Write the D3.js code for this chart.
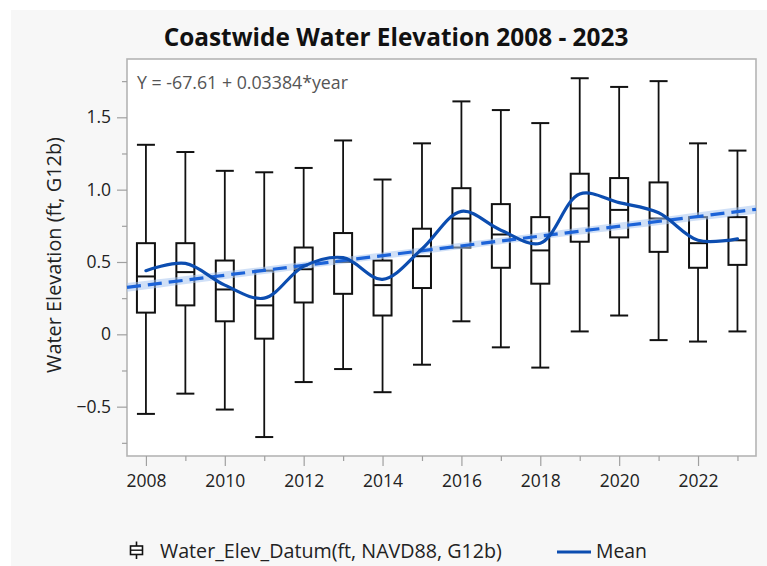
<!DOCTYPE html>
<html>
<head>
<meta charset="utf-8">
<script src="https://cdn.jsdelivr.net/npm/d3@7"></script>
<style>
  html, body { margin: 0; padding: 0; background: #ffffff; }
  svg { display: block; font-family: "Open Sans", "Noto Sans", sans-serif; }
</style>
</head>
<body>
<svg id="chart" width="767" height="566"></svg>
<script>
// Yearly distribution of water elevation (ft, NAVD88, G12b)
const years       = [2008, 2009, 2010, 2011, 2012, 2013, 2014, 2015, 2016, 2017, 2018, 2019, 2020, 2021, 2022, 2023];
const whiskerHigh = [1.31, 1.26, 1.13, 1.12, 1.15, 1.34, 1.07, 1.32, 1.61, 1.55, 1.46, 1.77, 1.71, 1.75, 1.32, 1.27];
const q3          = [0.63, 0.63, 0.51, 0.44, 0.60, 0.70, 0.51, 0.73, 1.01, 0.90, 0.81, 1.11, 1.08, 1.05, 0.81, 0.81];
const medians     = [0.40, 0.43, 0.31, 0.20, 0.45, 0.50, 0.34, 0.54, 0.80, 0.69, 0.58, 0.87, 0.86, 0.80, 0.63, 0.65];
const q1          = [0.15, 0.20, 0.09, -0.03, 0.22, 0.28, 0.13, 0.32, 0.60, 0.46, 0.35, 0.64, 0.67, 0.57, 0.46, 0.48];
const whiskerLow  = [-0.55, -0.41, -0.52, -0.71, -0.33, -0.24, -0.40, -0.21, 0.09, -0.09, -0.23, 0.02, 0.13, -0.04, -0.05, 0.02];
const means       = [0.44, 0.49, 0.34, 0.25, 0.47, 0.53, 0.38, 0.59, 0.85, 0.72, 0.63, 0.97, 0.91, 0.84, 0.65, 0.66];

// Linear fit: Y = -67.61 + 0.03384*year
const fitIntercept = -67.61;
const fitSlope = 0.03384;
// Half-width of the fit's confidence band at the centre year, and its growth toward the ends
const bandCentreHalf = 0.022;
const bandEndGrowth = 0.9;

const yTicks = [-0.5, 0, 0.5, 1.0, 1.5];
const yMinorTicks = [-0.75, -0.25, 0.25, 0.75, 1.25, 1.75];
const xTicks = [2008, 2010, 2012, 2014, 2016, 2018, 2020, 2022];
const xMinorTicks = [2009, 2011, 2013, 2015, 2017, 2019, 2021, 2023];

const titleText = "Coastwide Water Elevation 2008 - 2023";
const yLabelText = "Water Elevation (ft, G12b)";
const equationText = "Y = -67.61 + 0.03384*year";
const legendBoxText = "Water_Elev_Datum(ft, NAVD88, G12b)";
const legendMeanText = "Mean";

const svg = d3.select("#chart");
const plot = { left: 127, top: 59, right: 756, bottom: 456 };

// Panel background
svg.append("rect").attr("x", 11).attr("y", 10).attr("width", 756).attr("height", 556).attr("fill", "#f7f7f7");

const x = d3.scaleLinear().domain([2007.52, 2023.47]).range([plot.left, plot.right]);
const y = d3.scaleLinear().domain([-0.841, 1.903]).range([plot.bottom, plot.top]);

// Fit text to a target width by adjusting its font size
function fitWidth(sel, target) {
  const node = sel.node();
  const fs = parseFloat(sel.attr("font-size"));
  const w = node.getComputedTextLength();
  if (w > 0) sel.attr("font-size", (fs * target / w).toFixed(2));
  return sel;
}

// Plot area
svg.append("rect")
  .attr("x", plot.left).attr("y", plot.top)
  .attr("width", plot.right - plot.left).attr("height", plot.bottom - plot.top)
  .attr("fill", "#ffffff").attr("stroke", "#b4b4b4").attr("stroke-width", 1.6);

// Y axis
const yAxis = svg.append("g").attr("transform", `translate(${plot.left},0)`)
  .call(d3.axisLeft(y).tickValues(yTicks).tickSize(10).tickPadding(6)
    .tickFormat(d => d === 0 ? "0" : d3.format(".1f")(d)));
yAxis.select(".domain").remove();
yAxis.selectAll(".tick line").attr("stroke", "#a0a0a0").attr("stroke-width", 1.2);
yAxis.selectAll(".tick text").attr("font-size", 17.5).attr("fill", "#222").attr("font-family", "Open Sans, sans-serif");
const yMinor = svg.append("g").attr("transform", `translate(${plot.left},0)`)
  .call(d3.axisLeft(y).tickValues(yMinorTicks).tickSize(5).tickFormat(""));
yMinor.select(".domain").remove();
yMinor.selectAll(".tick line").attr("stroke", "#a0a0a0").attr("stroke-width", 1.2);

// X axis
const xAxis = svg.append("g").attr("transform", `translate(0,${plot.bottom})`)
  .call(d3.axisBottom(x).tickValues(xTicks).tickSize(10).tickPadding(9).tickFormat(d3.format("d")));
xAxis.select(".domain").remove();
xAxis.selectAll(".tick line").attr("stroke", "#a0a0a0").attr("stroke-width", 1.2);
xAxis.selectAll(".tick text").attr("font-size", 17.5).attr("fill", "#222").attr("font-family", "Open Sans, sans-serif");
const xMinor = svg.append("g").attr("transform", `translate(0,${plot.bottom})`)
  .call(d3.axisBottom(x).tickValues(xMinorTicks).tickSize(5).tickFormat(""));
xMinor.select(".domain").remove();
xMinor.selectAll(".tick line").attr("stroke", "#a0a0a0").attr("stroke-width", 1.2);

// Box plots
const boxW = 18;
const capW = 18;
const g = svg.append("g");
years.forEach((yr, i) => {
  const cx = x(yr);
  const bg = g.append("g").attr("stroke", "#111").attr("fill", "none");
  bg.append("line").attr("x1", cx).attr("x2", cx).attr("y1", y(whiskerHigh[i])).attr("y2", y(q3[i])).attr("stroke-width", 1.8);
  bg.append("line").attr("x1", cx).attr("x2", cx).attr("y1", y(q1[i])).attr("y2", y(whiskerLow[i])).attr("stroke-width", 1.8);
  bg.append("line").attr("x1", cx - capW / 2).attr("x2", cx + capW / 2).attr("y1", y(whiskerHigh[i])).attr("y2", y(whiskerHigh[i])).attr("stroke-width", 2);
  bg.append("line").attr("x1", cx - capW / 2).attr("x2", cx + capW / 2).attr("y1", y(whiskerLow[i])).attr("y2", y(whiskerLow[i])).attr("stroke-width", 2);
  bg.append("rect").attr("x", cx - boxW / 2).attr("y", y(q3[i])).attr("width", boxW)
    .attr("height", y(q1[i]) - y(q3[i])).attr("fill", "#fff").attr("stroke-width", 2);
  bg.append("line").attr("x1", cx - boxW / 2).attr("x2", cx + boxW / 2).attr("y1", y(medians[i])).attr("y2", y(medians[i])).attr("stroke-width", 2);
});

// Regression fit with confidence band
const xMean = d3.mean(years);
const halfSpan = (x.domain()[1] - x.domain()[0]) / 2;
const bandYears = d3.range(0, 41).map(k => x.domain()[0] + (x.domain()[1] - x.domain()[0]) * k / 40);
const fitAt = yr => fitIntercept + fitSlope * yr;
const halfAt = yr => bandCentreHalf * Math.sqrt(1 + bandEndGrowth * Math.pow((yr - xMean) / halfSpan, 2));
svg.append("path")
  .datum(bandYears)
  .attr("fill", "#a9c6f0").attr("fill-opacity", 0.55)
  .attr("d", d3.area().x(d => x(d)).y0(d => y(fitAt(d) - halfAt(d))).y1(d => y(fitAt(d) + halfAt(d))));
svg.append("line")
  .attr("x1", x(x.domain()[0])).attr("y1", y(fitAt(x.domain()[0])))
  .attr("x2", x(x.domain()[1])).attr("y2", y(fitAt(x.domain()[1])))
  .attr("stroke", "#1c63d8").attr("stroke-width", 3.2).attr("stroke-dasharray", "14,7");

// Mean line
svg.append("path")
  .datum(years.map((yr, i) => [yr, means[i]]))
  .attr("fill", "none").attr("stroke", "#0c4db0").attr("stroke-width", 3.2).attr("stroke-linecap", "round")
  .attr("d", d3.line().x(d => x(d[0])).y(d => y(d[1])).curve(d3.curveCatmullRom.alpha(0.5)));

// Fit equation
fitWidth(svg.append("text").attr("x", 137).attr("y", 89).attr("font-size", 16)
  .attr("fill", "#555").text(equationText), 211);

// Title
fitWidth(svg.append("text").attr("x", 396).attr("y", 46).attr("text-anchor", "middle")
  .attr("font-size", 22).attr("font-weight", 700).attr("fill", "#111").text(titleText), 465);

// Y axis label
fitWidth(svg.append("text").attr("transform", "translate(61,255) rotate(-90)").attr("text-anchor", "middle")
  .attr("font-size", 17).attr("fill", "#222").text(yLabelText), 236);

// Legend
const lg = svg.append("g");
lg.append("line").attr("x1", 136.5).attr("x2", 136.5).attr("y1", 541.5).attr("y2", 559).attr("stroke", "#111").attr("stroke-width", 1.6);
lg.append("rect").attr("x", 130.5).attr("y", 546).attr("width", 12).attr("height", 8.5).attr("fill", "#fff").attr("stroke", "#111").attr("stroke-width", 1.6);
lg.append("line").attr("x1", 130.5).attr("x2", 142.5).attr("y1", 550.2).attr("y2", 550.2).attr("stroke", "#111").attr("stroke-width", 1.4);
fitWidth(lg.append("text").attr("x", 160).attr("y", 558).attr("font-size", 17).attr("fill", "#222").text(legendBoxText), 342);
lg.append("line").attr("x1", 557).attr("x2", 591).attr("y1", 552).attr("y2", 552).attr("stroke", "#0c4db0").attr("stroke-width", 3);
fitWidth(lg.append("text").attr("x", 596).attr("y", 558).attr("font-size", 17).attr("fill", "#222").text(legendMeanText), 51);
</script>
</body>
</html>
